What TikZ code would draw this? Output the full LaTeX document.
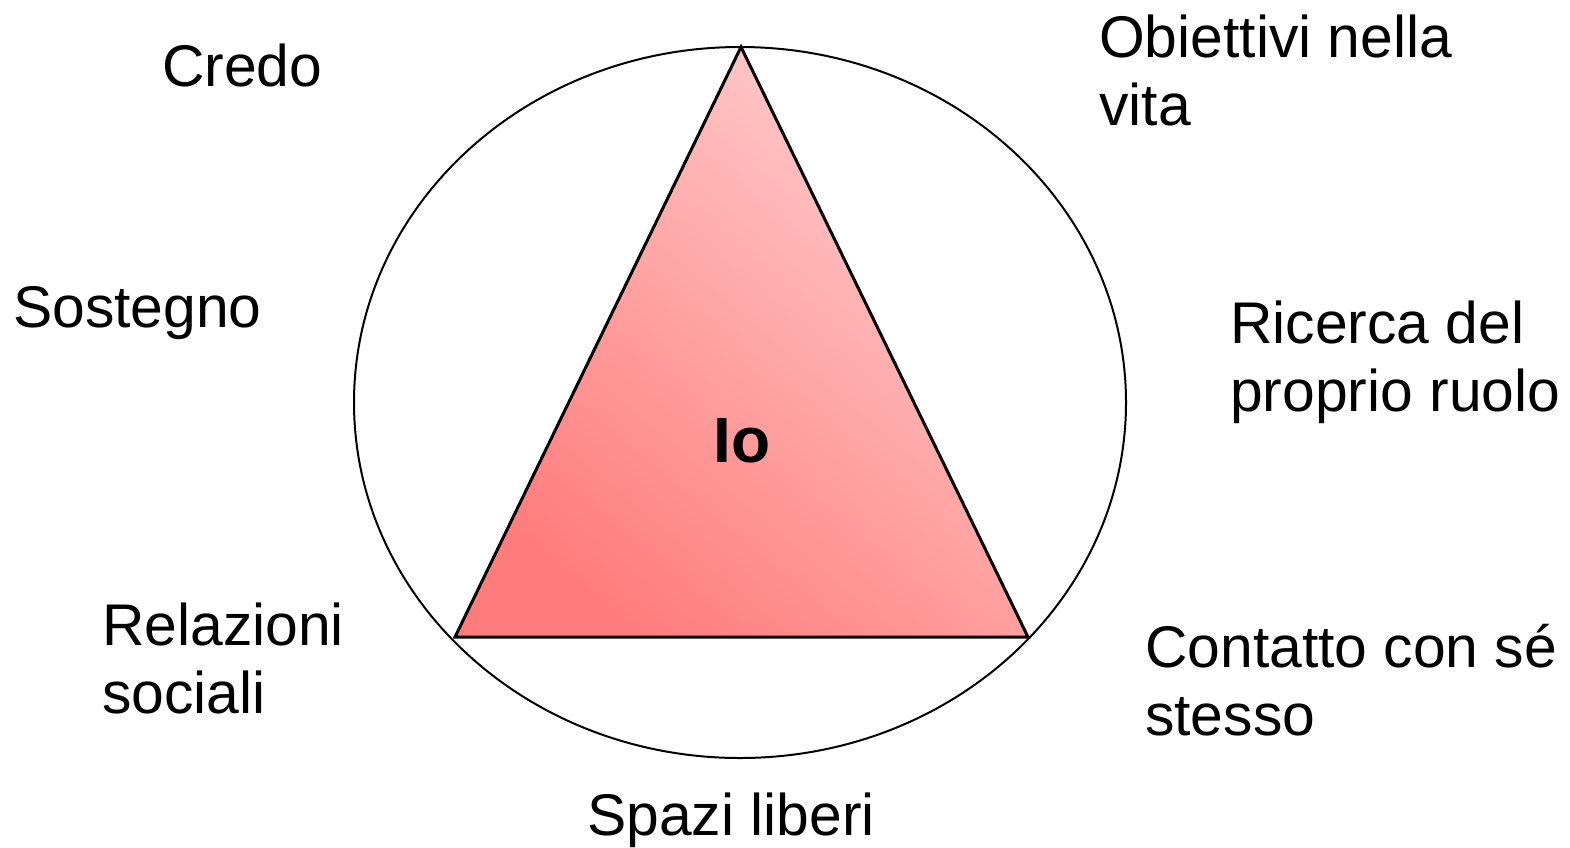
\documentclass[tikz,border=0pt]{standalone}
\usepackage{fontspec}
\setmainfont{Liberation Sans}
\begin{document}
\begin{tikzpicture}[x=1pt,y=-1pt,
  lbl/.style={anchor=base west,inner sep=0pt,align=left,font=\fontsize{58.8}{68}\selectfont},
  ego/.style={anchor=base,inner sep=0pt,font=\fontsize{64}{70}\selectfont\bfseries}]
\useasboundingbox (0,0) rectangle (1570,847);
\definecolor{pinkdark}{RGB}{255,124,124}
\definecolor{pinklight}{RGB}{255,205,205}
\draw[line width=2pt] (740,402.5) ellipse [x radius=386, y radius=355.5];
\coordinate (A) at (741,47);
\coordinate (B) at (455,637);
\coordinate (C) at (1028,637);
\shade[top color=pinklight,bottom color=pinkdark,shading angle=-40] (A) -- (B) -- (C) -- cycle;
\draw[line width=3pt,line join=miter] (A) -- (B) -- (C) -- cycle;
\node[ego] (io) at (742,462) {Io};
\node[lbl] (credo) at (162,86) {Credo};
\node[lbl] (obiettivi) at (1099,125) {Obiettivi nella\\vita};
\node[lbl] (sostegno) at (13,327) {Sostegno};
\node[lbl] (ricerca) at (1230,411) {Ricerca del\\proprio ruolo};
\node[lbl] (relazioni) at (102,713) {Relazioni\\sociali};
\node[lbl] (contatto) at (1145,735) {Contatto con sé\\stesso};
\node[lbl] (spazi) at (587,835) {Spazi liberi};
\end{tikzpicture}
\end{document}
